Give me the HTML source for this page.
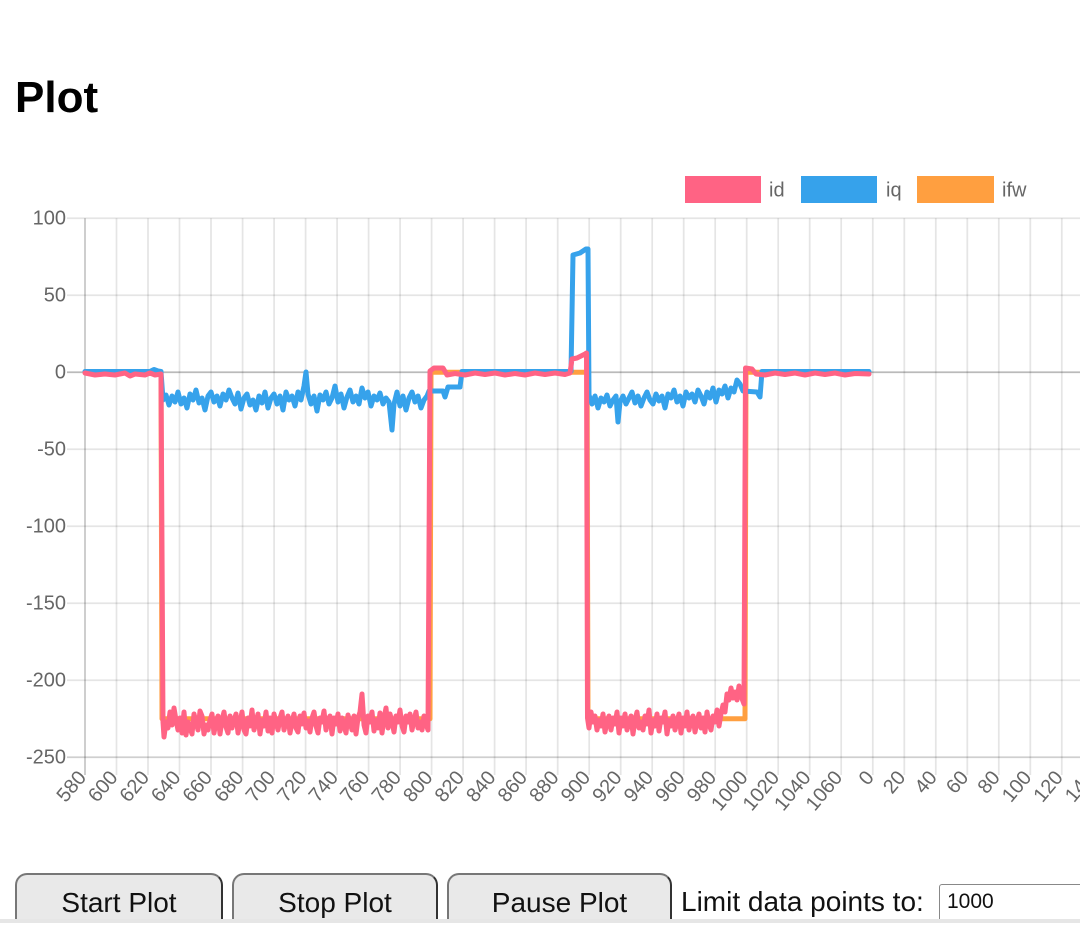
<!DOCTYPE html>
<html><head><meta charset="utf-8">
<style>
html,body{margin:0;padding:0;background:#fff;width:1080px;height:939px;overflow:hidden;position:relative;font-family:"Liberation Sans",Arial,sans-serif;}
h1{position:absolute;left:15px;top:68px;margin:0;font-size:44px;font-weight:bold;line-height:60px;color:#000;}
svg{position:absolute;left:0;top:0;}
.btn{position:absolute;top:873px;height:60px;box-sizing:border-box;background:#e9e9e9;border:2px solid #777;border-right-color:#333;border-bottom:none;border-radius:12px 12px 0 0;font-size:28px;color:#111;text-align:center;line-height:56px;}
.lbl{position:absolute;left:681px;top:884px;font-size:28px;color:#111;line-height:36px;}
.inp{position:absolute;left:939px;top:884px;width:160px;height:50px;box-sizing:border-box;border:1px solid #888;border-radius:3px 0 0 0;font-size:21px;color:#111;padding:4px 0 0 7px;line-height:26px;}
.strip{position:absolute;left:0;top:919px;width:1080px;height:4px;background:#e6e6e6;}
.under{position:absolute;left:0;top:923px;width:1080px;height:16px;background:#fff;}
</style></head><body>
<h1>Plot</h1>
<svg width="1080" height="939" viewBox="0 0 1080 939" xmlns="http://www.w3.org/2000/svg">
<!-- legend -->
<rect x="685" y="176" width="76" height="27" fill="#ff6384"/>
<text x="769" y="196.5" font-family="Liberation Sans, Arial, sans-serif" font-size="20" fill="#666">id</text>
<rect x="801" y="176" width="76" height="27" fill="#36a2eb"/>
<text x="886" y="196.5" font-family="Liberation Sans, Arial, sans-serif" font-size="20" fill="#666">iq</text>
<rect x="917" y="176" width="77" height="27" fill="#ff9f40"/>
<text x="1002" y="196.5" font-family="Liberation Sans, Arial, sans-serif" font-size="20" fill="#666">ifw</text>
<!-- grid -->
<g stroke="rgba(0,0,0,0.1)" stroke-width="1.75" fill="none">
<path d="M67,218.3H1080M67,295.3H1080M67,449.3H1080M67,526.3H1080M67,603.3H1080M67,680.3H1080"/>
<path d="M116.5,218.3V775M148,218.3V775M179.5,218.3V775M211,218.3V775M242.6,218.3V775M274.1,218.3V775M305.6,218.3V775M337.1,218.3V775M368.6,218.3V775M400.1,218.3V775M431.6,218.3V775M463.1,218.3V775M494.6,218.3V775M526.1,218.3V775M557.7,218.3V775M589.2,218.3V775M620.7,218.3V775M652.2,218.3V775M683.7,218.3V775M715.2,218.3V775M746.7,218.3V775M778.2,218.3V775M809.7,218.3V775M841.2,218.3V775M872.8,218.3V775M904.3,218.3V775M935.8,218.3V775M967.3,218.3V775M998.8,218.3V775M1030.3,218.3V775M1061.8,218.3V775"/>
</g>
<path d="M67,757.3H1080" stroke="rgba(0,0,0,0.19)" stroke-width="1.75"/>
<path d="M67,372.3H1080" stroke="rgba(0,0,0,0.27)" stroke-width="1.75"/>
<path d="M85,218.3V775" stroke="rgba(0,0,0,0.22)" stroke-width="1.75"/>
<!-- y labels -->
<g font-family="Liberation Sans, Arial, sans-serif" font-size="20" fill="#666" text-anchor="end" dominant-baseline="central">
<text x="66" y="218.3">100</text>
<text x="66" y="295.3">50</text>
<text x="66" y="372.3">0</text>
<text x="66" y="449.3">-50</text>
<text x="66" y="526.3">-100</text>
<text x="66" y="603.3">-150</text>
<text x="66" y="680.3">-200</text>
<text x="66" y="757.3">-250</text>
</g>
<!-- x labels -->
<g font-family="Liberation Sans, Arial, sans-serif" font-size="20" fill="#666" text-anchor="end" dominant-baseline="central">
<text transform="translate(82.5,774) rotate(-50)">580</text>
<text transform="translate(114,774) rotate(-50)">600</text>
<text transform="translate(145.5,774) rotate(-50)">620</text>
<text transform="translate(177,774) rotate(-50)">640</text>
<text transform="translate(208.5,774) rotate(-50)">660</text>
<text transform="translate(240.1,774) rotate(-50)">680</text>
<text transform="translate(271.6,774) rotate(-50)">700</text>
<text transform="translate(303.1,774) rotate(-50)">720</text>
<text transform="translate(334.6,774) rotate(-50)">740</text>
<text transform="translate(366.1,774) rotate(-50)">760</text>
<text transform="translate(397.6,774) rotate(-50)">780</text>
<text transform="translate(429.1,774) rotate(-50)">800</text>
<text transform="translate(460.6,774) rotate(-50)">820</text>
<text transform="translate(492.1,774) rotate(-50)">840</text>
<text transform="translate(523.6,774) rotate(-50)">860</text>
<text transform="translate(555.2,774) rotate(-50)">880</text>
<text transform="translate(586.7,774) rotate(-50)">900</text>
<text transform="translate(618.2,774) rotate(-50)">920</text>
<text transform="translate(649.7,774) rotate(-50)">940</text>
<text transform="translate(681.2,774) rotate(-50)">960</text>
<text transform="translate(712.7,774) rotate(-50)">980</text>
<text transform="translate(744.2,774) rotate(-50)">1000</text>
<text transform="translate(775.7,774) rotate(-50)">1020</text>
<text transform="translate(807.2,774) rotate(-50)">1040</text>
<text transform="translate(838.7,774) rotate(-50)">1060</text>
<text transform="translate(870.3,774) rotate(-50)">0</text>
<text transform="translate(901.8,774) rotate(-50)">20</text>
<text transform="translate(933.3,774) rotate(-50)">40</text>
<text transform="translate(964.8,774) rotate(-50)">60</text>
<text transform="translate(996.3,774) rotate(-50)">80</text>
<text transform="translate(1027.8,774) rotate(-50)">100</text>
<text transform="translate(1059.3,774) rotate(-50)">120</text>
<text transform="translate(1090.8,774) rotate(-50)">140</text>
</g>
<!-- series -->
<g fill="none" stroke-width="5" stroke-linejoin="round" stroke-linecap="round">
<!-- ifw -->
<polyline stroke="#ff9f40" points="85,372.3 161,372.3 162,718.8 430,718.8 431,372.3 587,372.3 588,718.8 745,718.8 746,372.3 869,372.3"/>
<!-- iq -->
<polyline stroke="#36a2eb" points="85,371.5 150,371.5 154,369.5 158,371 161,371.5 163,400 166,395 169,405 172,396 175,402 178,392 181,404 184,398 187,408 190,394 193,400 196,390 199,403 202,398 205,410 208,396 211,392 214,402 217,396 220,406 223,394 226,400 229,390 232,398 235,404 238,393 241,409 244,398 247,394 250,405 253,400 256,410 259,396 262,403 265,392 268,408 271,398 274,394 277,404 280,396 283,410 286,392 289,400 292,396 295,406 298,392 301,400 304,386 306,372 308,394 311,404 314,396 317,411 320,395 323,400 326,392 329,404 332,398 335,386 338,402 341,394 344,408 347,397 350,390 353,402 356,396 359,404 362,388 365,398 368,392 371,406 374,396 377,400 380,393 383,404 386,398 389,402 392,430 394,404 397,392 400,406 403,396 406,410 409,398 412,392 415,402 418,396 421,408 424,400 427,396 429,391 443,391 445,397 448,387 460,387 462,371.5 571,371.5 573,255 580,253 586,249 588,249 589,395 592,404 595,396 598,408 601,398 604,402 607,395 610,406 613,400 616,396 618,422 620,402 623,396 626,404 629,398 632,392 635,403 638,396 641,406 644,398 647,392 650,400 653,404 656,394 659,401 662,396 665,408 668,394 671,398 674,390 677,402 680,396 683,406 686,392 689,398 692,394 695,402 698,390 701,396 704,404 707,392 710,398 713,388 716,402 719,390 722,394 725,386 728,398 731,388 734,392 737,380 740,384 743,391 757,392 760,397 762,371.5 869,371.5"/>
<!-- id -->
<polyline stroke="#ff6384" points="85,373 95,375 105,374 115,375 125,373 130,376 135,374 145,375 150,373 155,375 161,374 163,722 164,737 166,722 168,728 170,712 172,725 174,708 176,720 178,730 180,718 182,733 184,712 186,735 188,722 190,728 192,734 194,714 196,722 198,730 200,711 202,716 204,734 206,725 208,730 210,720 212,714 214,733 216,722 218,716 220,734 222,720 224,712 226,727 228,733 230,716 232,728 234,720 236,714 238,733 240,722 242,712 244,730 246,734 248,718 250,726 252,710 254,730 256,722 258,714 260,734 262,720 264,726 266,712 268,731 270,718 272,733 274,714 276,722 278,730 280,718 282,712 284,730 286,722 288,716 290,733 292,722 294,714 296,728 298,732 300,716 302,724 304,713 306,728 308,721 310,732 312,718 314,712 316,726 318,733 320,718 322,722 324,711 326,730 328,720 330,716 332,734 334,718 336,724 338,714 340,731 342,718 344,726 346,733 348,715 350,722 352,730 354,716 356,734 358,718 360,712 362,694 364,725 366,733 368,716 370,722 372,712 374,731 376,720 378,728 380,713 382,733 384,718 386,708 388,728 390,714 392,722 394,732 396,716 398,722 400,710 402,726 404,732 406,716 408,722 410,714 412,730 414,720 416,712 418,728 420,722 422,730 424,716 426,724 428,730 430,371 434,368 443,368 447,375 455,373.5 465,375 475,373 485,374.5 495,373 505,375 515,373.5 525,375 535,373 545,374.5 555,373 565,374.5 570,373 572,359 577,358 581,356 585,354 586.5,353 587.5,718 589,728 591,712 593,722 595,716 597,730 599,720 601,726 603,714 605,732 607,722 609,716 611,730 613,718 615,724 617,712 619,733 621,718 623,726 625,714 627,730 629,722 631,716 633,734 635,720 637,712 639,728 641,722 643,730 645,716 647,724 649,710 651,733 653,720 655,726 657,714 659,731 661,718 663,722 665,712 667,734 669,720 671,726 673,716 675,730 677,722 679,714 681,733 683,718 685,726 687,712 689,730 691,720 693,716 695,732 697,722 699,714 701,728 703,718 705,732 707,712 709,724 711,730 713,716 715,722 717,710 719,726 721,714 723,705 725,712 727,694 729,700 731,688 733,698 735,692 737,700 739,686 741,696 744,704 745.5,368 752,369 756,374 765,375 775,373 785,374.5 795,373 805,375 815,373 825,374.5 835,373 845,375 855,373.5 869,374"/>
</g>
</svg>
<div class="btn" style="left:15px;width:208px;">Start Plot</div>
<div class="btn" style="left:232px;width:206px;">Stop Plot</div>
<div class="btn" style="left:447px;width:225px;">Pause Plot</div>
<div class="lbl">Limit data points to:</div>
<div class="inp">1000</div>
<div class="strip"></div>
<div class="under"></div>
</body></html>
